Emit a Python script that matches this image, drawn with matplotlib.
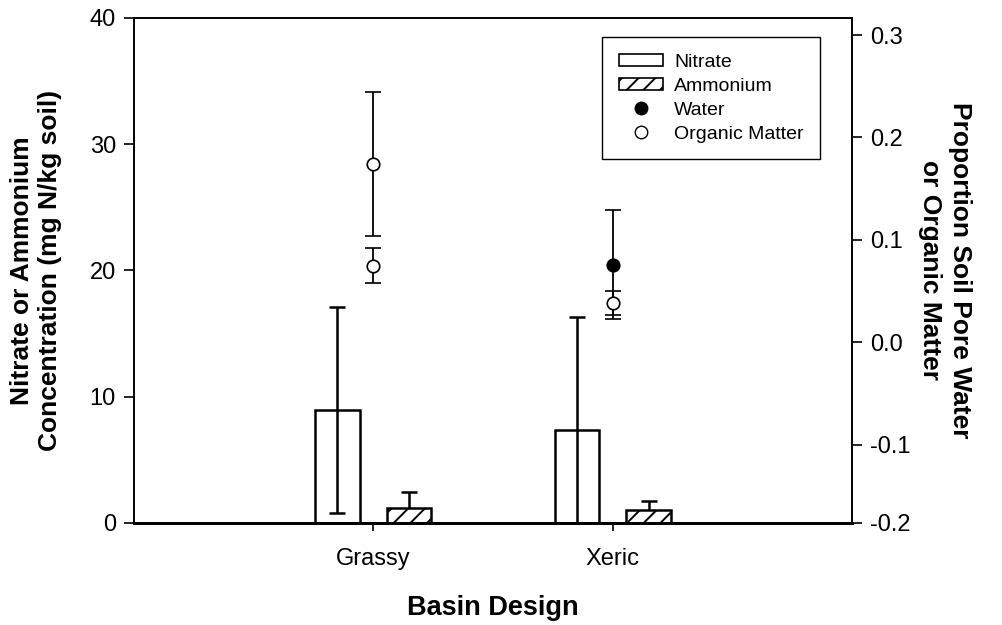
import numpy as np
import matplotlib
matplotlib.use('Agg')
import matplotlib.pyplot as plt
from matplotlib.ticker import FormatStrFormatter
from matplotlib.patches import Patch
from matplotlib.lines import Line2D

# 数据: 两种盆地设计下的硝态氮/铵态氮 (左轴) 以及土壤孔隙水/有机质比例 (右轴)
designs = ['Grassy', 'Xeric']
nitrate = [8.95, 7.35]
nitrate_err = [8.15, 8.95]
ammonium = [1.15, 1.0]
ammonium_err = [1.3, 0.75]
water = [0.174, 0.076]
water_err = [0.07, 0.053]
organic = [0.075, 0.0385]
organic_err = [0.017, 0.012]
water_fill = ['white', 'black']

plt.rcParams['font.family'] = ['Liberation Sans', 'DejaVu Sans']
plt.rcParams['hatch.linewidth'] = 1.4

fig = plt.figure(figsize=(10.02, 6.25), dpi=100)
ax = fig.add_axes([0.1337, 0.1637, 0.7166, 0.8075])
ax2 = ax.twinx()

x = np.arange(1, len(designs) + 1)
off = 0.15
bw = 0.185

# 柱状图 + 误差线
ax.errorbar(x - off, nitrate, yerr=nitrate_err, fmt='none', ecolor='black',
            elinewidth=1.8, capsize=5.5, capthick=1.8, zorder=2)
ax.bar(x - off, nitrate, bw, facecolor='none', edgecolor='black', linewidth=1.8, zorder=3)
ax.errorbar(x + off, ammonium, yerr=ammonium_err, fmt='none', ecolor='black',
            elinewidth=1.8, capsize=5.5, capthick=1.8, zorder=2)
ax.bar(x + off, ammonium, bw, facecolor='white', edgecolor='black', linewidth=1.8,
       hatch='//', zorder=3)

ax.set_xlim(0, 3)
ax.set_ylim(0, 40)
ax.set_xticks(x)
ax.set_xticklabels(designs)
ax.set_yticks([0, 10, 20, 30, 40])

# 右轴: 散点 + 误差线
for i in range(len(designs)):
    ax2.errorbar(x[i], water[i], yerr=water_err[i], fmt='o', color='black',
                 mfc=water_fill[i], mec='black', ms=9, mew=1.2,
                 elinewidth=1.3, capsize=5.5, capthick=1.3, zorder=3)
    ax2.errorbar(x[i], organic[i], yerr=organic_err[i], fmt='o', color='black',
                 mfc='white', mec='black', ms=9, mew=1.2,
                 elinewidth=1.3, capsize=5.5, capthick=1.3, zorder=3)

r_lo, r_hi = -0.176, 0.3166
ax2.set_ylim(r_lo, r_hi)
ax2.set_yticks([r_lo, -0.1, 0.0, 0.1, 0.2, 0.3])
ax2.yaxis.set_major_formatter(FormatStrFormatter('%.1f'))

for a in (ax, ax2):
    for s in a.spines.values():
        s.set_linewidth(1.2)
    a.spines['bottom'].set_linewidth(2.0)
    a.tick_params(direction='out', length=7, width=1.2, labelsize=17, pad=6)
ax.tick_params(axis='x', length=6, pad=12)

ax.set_xlabel('Basin Design', fontsize=19.5, fontweight='bold', labelpad=18)
ax.set_ylabel('Nitrate or Ammonium\nConcentration (mg N/kg soil)', fontsize=19,
              fontweight='bold', labelpad=20, linespacing=1.2)
ax2.set_ylabel('Proportion Soil Pore Water\nor Organic Matter', fontsize=19,
               fontweight='bold', rotation=270, labelpad=44, linespacing=1.3)

handles = [
    Patch(facecolor='white', edgecolor='black', linewidth=1.2, label='Nitrate'),
    Patch(facecolor='white', edgecolor='black', linewidth=1.2, hatch='//', label='Ammonium'),
    Line2D([], [], marker='o', ls='none', mfc='black', mec='black', ms=9, label='Water'),
    Line2D([], [], marker='o', ls='none', mfc='white', mec='black', ms=9, label='Organic Matter'),
]
leg = ax2.legend(handles=handles, loc='upper left', bbox_to_anchor=(0.652, 0.962),
                 borderaxespad=0, fontsize=14, frameon=True, fancybox=False, framealpha=1,
                 edgecolor='black', handlelength=2.3, handleheight=0.6,
                 labelspacing=0.36, borderpad=0.85, handletextpad=0.55)
leg.get_frame().set_linewidth(1.0)

fig.savefig('out.png', dpi=100)
